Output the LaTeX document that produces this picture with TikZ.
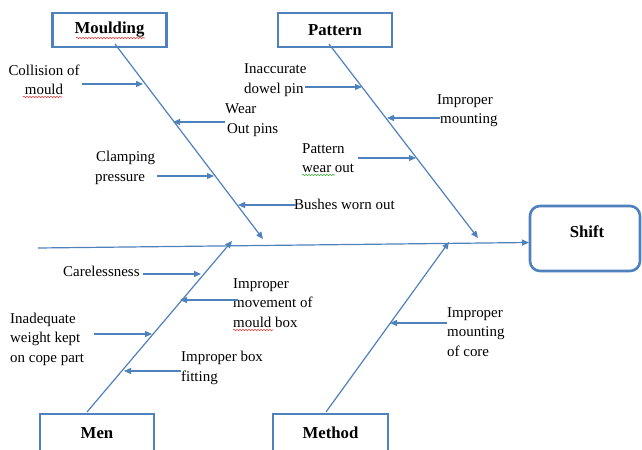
\documentclass[tikz,border=0pt]{standalone}
\usepackage{fontspec}
\setmainfont{Liberation Serif}
\usetikzlibrary{arrows.meta,decorations.pathmorphing}
\definecolor{bone}{RGB}{79,129,189}
\definecolor{spellred}{RGB}{230,60,60}
\definecolor{spellgreen}{RGB}{60,170,60}
\begin{document}
\begin{tikzpicture}[x=1bp,y=-1bp,
  boneline/.style={draw=bone,line width=1.2bp,-{Triangle[length=7bp,width=6bp]}},
  cause/.style={draw=bone,line width=1.2bp,-{Triangle[length=7bp,width=6bp]}},
  catbox/.style={draw=bone,line width=2.6bp,inner sep=0pt,
    font=\fontsize{16.8}{19}\selectfont\bfseries},
  lbl/.style={font=\fontsize{15}{19.5}\selectfont,inner sep=0pt,align=left},
  squiggle/.style={line width=0.6bp,decorate,
    decoration={snake,amplitude=0.7bp,segment length=3bp}}]
\useasboundingbox (0,0) rectangle (642,450);
\clip (0,0) rectangle (642,450);
\fill[white] (0,0) rectangle (642,450);

% category boxes
\node[catbox,minimum width=114bp,minimum height=34bp] (moulding) at (109.5,30) {Moulding};
\node[catbox,minimum width=114bp,minimum height=34bp] (pattern) at (335,30) {Pattern};
\node[catbox,minimum width=114bp,minimum height=38bp] (men) at (97,433) {Men};
\node[catbox,minimum width=115bp,minimum height=38bp] (method) at (330.5,433) {Method};

% effect box
\node[draw=bone,line width=2.6bp,rounded corners=10bp,minimum width=110bp,
  minimum height=65bp,inner sep=0pt] (shift) at (585,238.5) {};
\node[font=\fontsize{16.8}{19}\selectfont\bfseries,inner sep=0pt] (shifttext) at (587,232) {Shift};

% spine
\coordinate (spineStart) at (38,248);
\coordinate (spineEnd) at (529,242.5);
\draw[boneline] (spineStart) -- (spineEnd);

% bones
\coordinate (mouldTop) at (115,44);   \coordinate (mouldEnd) at (263,239);
\coordinate (pattTop) at (329,44);    \coordinate (pattEnd) at (478,238);
\coordinate (menBot) at (87,412);     \coordinate (menEnd) at (232,241);
\coordinate (methBot) at (326,412);   \coordinate (methEnd) at (449,242);
\draw[boneline] (mouldTop) -- (mouldEnd);
\draw[boneline] (pattTop) -- (pattEnd);
\draw[boneline] (menBot) -- (menEnd);
\draw[boneline] (methBot) -- (methEnd);

% Moulding causes
\node[lbl,align=center] (collision) at (44,80) {Collision of\\mould};
\coordinate (collS) at (82,84);   \coordinate (collE) at (143,84);
\draw[cause] (collS) -- (collE);

\node[lbl,anchor=west] (wear) at (225,120) {Wear\\\hspace{2bp}Out pins};
\coordinate (wearS) at (225,122); \coordinate (wearE) at (173,122);
\draw[cause] (wearS) -- (wearE);

\node[lbl,anchor=west] (clamping) at (95,168) {\hspace{1bp}Clamping\\pressure};
\coordinate (clampS) at (157,176); \coordinate (clampE) at (214,176);
\draw[cause] (clampS) -- (clampE);

\node[lbl,anchor=west] (bushes) at (294,204) {Bushes worn out};
\coordinate (bushS) at (296,205); \coordinate (bushE) at (238,205);
\draw[cause] (bushS) -- (bushE);

% Pattern causes
\node[lbl,anchor=west] (dowel) at (244,80) {Inaccurate\\dowel pin};
\coordinate (dowelS) at (305,87); \coordinate (dowelE) at (362,87);
\draw[cause] (dowelS) -- (dowelE);

\node[lbl,anchor=west] (mounting) at (437,111) {Improper\\\hspace{3bp}mounting};
\coordinate (mountS) at (440,118); \coordinate (mountE) at (387,118);
\draw[cause] (mountS) -- (mountE);

\node[lbl,anchor=west] (pwear) at (302,158) {Pattern\\wear out};
\coordinate (pwearS) at (358,158); \coordinate (pwearE) at (416,158);
\draw[cause] (pwearS) -- (pwearE);

% Men causes
\node[lbl,anchor=west] (careless) at (63,271) {Carelessness};
\coordinate (carS) at (143,274); \coordinate (carE) at (201,274);
\draw[cause] (carS) -- (carE);

\node[lbl,anchor=west] (movement) at (233,303) {Improper\\movement of\\mould box};
\coordinate (movS) at (238,300); \coordinate (movE) at (180,300);
\draw[cause] (movS) -- (movE);

\node[lbl,anchor=west] (weight) at (10,339) {Inadequate\\weight kept\\on cope part};
\coordinate (wtS) at (94,334); \coordinate (wtE) at (152,334);
\draw[cause] (wtS) -- (wtE);

\node[lbl,anchor=west] (boxfit) at (181,368) {Improper box\\fitting};
\coordinate (fitS) at (181,371); \coordinate (fitE) at (124,371);
\draw[cause] (fitS) -- (fitE);

% Method cause
\node[lbl,anchor=west] (core) at (447,332) {Improper\\mounting\\of core};
\coordinate (coreS) at (447,323); \coordinate (coreE) at (390,323);
\draw[cause] (coreS) -- (coreE);

% spell-check underlines
\draw[squiggle,spellred] (76,38) -- (145,38);
\draw[squiggle,spellred] (23,97) -- (62,97);
\draw[squiggle,spellred] (233,330) -- (273,330);
\draw[squiggle,spellgreen] (302,175) -- (335,175);
\end{tikzpicture}
\end{document}
